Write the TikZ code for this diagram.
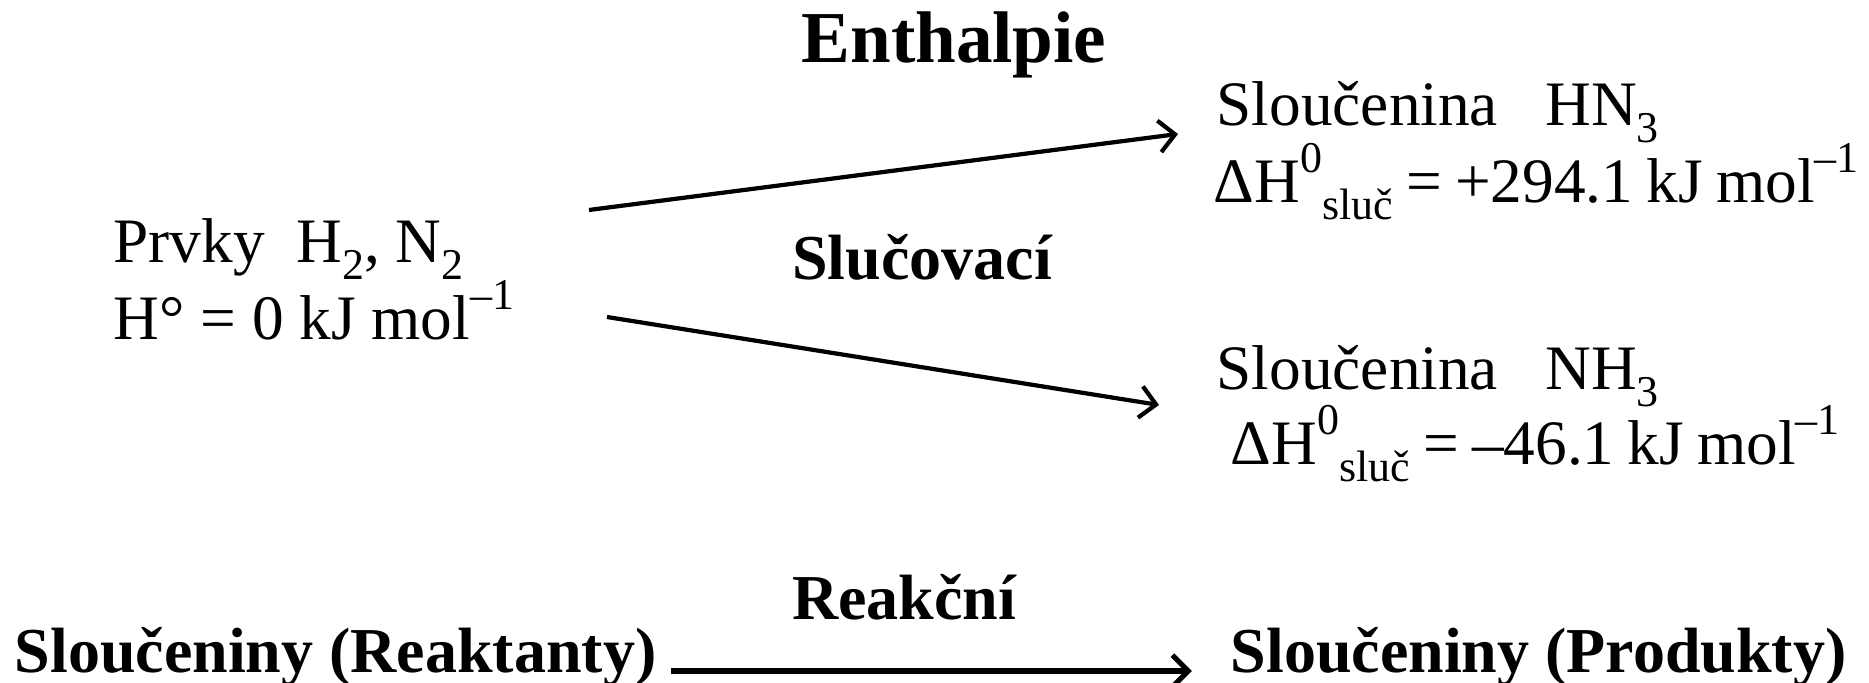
\documentclass[tikz,border=0pt]{standalone}
\usepackage{fontspec}
\setmainfont{Liberation Serif}
\usetikzlibrary{positioning,arrows.meta}
\newcommand\dn[1]{\raisebox{-0.26em}{\fontsize{12.5}{12.5}\selectfont #1}}
\newcommand\up[1]{\raisebox{0.48em}{\fontsize{12.5}{12.5}\selectfont #1}}
\newcommand\tightsp{\spaceskip=0.21em\relax}

\begin{document}
\begin{tikzpicture}[
x=0.01cm, y=-0.01cm,
txt/.style={anchor=base west, inner sep=0pt, font=\fontsize{18}{22}\selectfont},
dtxt/.style={txt, font=\fontsize{18}{22}\selectfont\tightsp},
head/.style={txt, font=\fontsize{18.2}{22}\selectfont\bfseries},
arrow/.style={-{Straight Barb[length=4.5pt,width=9pt]}, line width=1.2pt}
]
\useasboundingbox (0,0) rectangle (1869,683);
\node[head, anchor=base, font=\fontsize{20.8}{24}\selectfont\bfseries] (title) at (954,63) {Enthalpie};
% elements
\node[txt] (prvky) at (113,263) {Prvky\ \ H\dn{2}, N\dn{2}};
\node[txt] (prvkyH) at (113,340) {H° = 0 kJ mol\up{–1}};
% compounds
\node[txt] (hn3) at (1216,126) {Sloučenina\ \ \ HN\dn{3}};
\node[dtxt] (hn3H) at (1213,203) {ΔH\up{0}\dn{sluč} = +294.1 kJ mol\up{–1}};
\node[txt] (nh3) at (1216,390) {Sloučenina\ \ \ NH\dn{3}};
\node[dtxt] (nh3H) at (1230,465) {ΔH\up{0}\dn{sluč} = –46.1 kJ mol\up{–1}};
\node[head, anchor=base] (slucovaci) at (922,280) {Slučovací};
% reaction
\node[head, anchor=base] (reakcni) at (904,620) {Reakční};
\node[head] (reakt) at (14,673) {Sloučeniny (Reaktanty)};
\node[head] (prod) at (1230,673) {Sloučeniny (Produkty)};
\coordinate (upA) at (589,210);
\coordinate (upB) at (1178,134);
\coordinate (downA) at (607,317);
\coordinate (downB) at (1159,405);
\draw[arrow] (upA) -- (upB);
\draw[arrow] (downA) -- (downB);
\draw[arrow, line width=1.5pt] ([xshift=0.14cm, yshift=0.02cm]reakt.base east) -- ([xshift=-0.38cm, yshift=0.02cm]prod.base west);
\end{tikzpicture}
\end{document}
